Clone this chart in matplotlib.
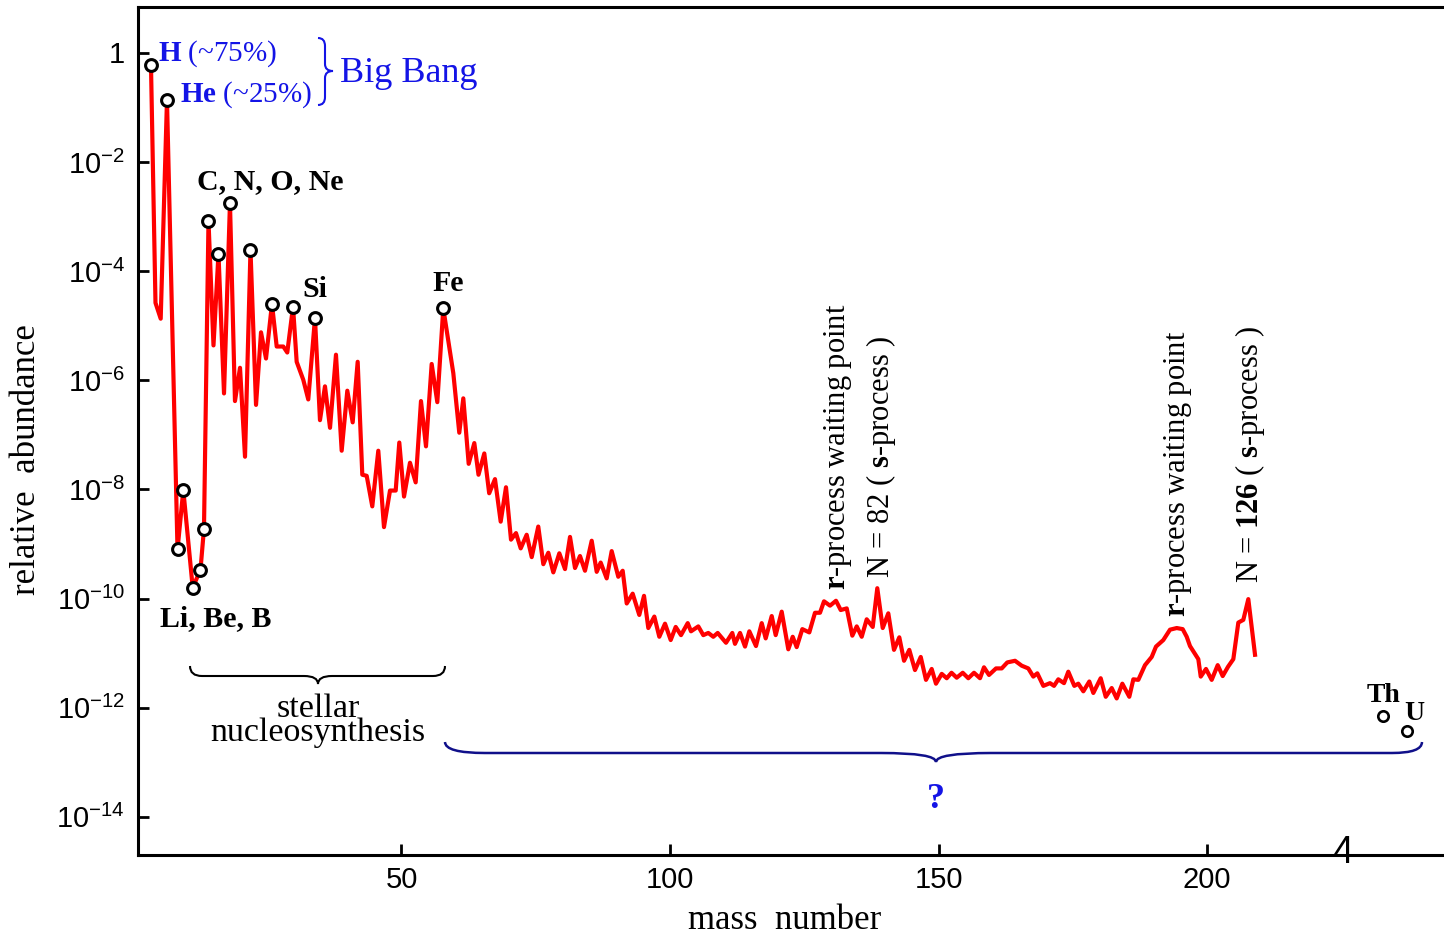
import numpy as np
import matplotlib
matplotlib.use("Agg")
import matplotlib.pyplot as plt
from matplotlib.path import Path
from matplotlib.patches import PathPatch
from matplotlib.transforms import Affine2D

# solar system abundances vs. mass number (x, y as log10)
mass = [3.35, 4.19, 5.16, 6.33, 8.29, 9.37, 11.12, 12.57, 13.22, 14.06,
        14.99, 15.92, 16.95, 18.06, 18.99, 19.93, 20.86, 21.88, 22.91, 23.84,
        24.77, 25.88, 26.76, 27.99, 28.73, 29.80, 30.48, 31.71, 32.64, 33.89,
        34.82, 35.75, 36.69, 37.80, 38.86, 39.91, 40.91, 41.84, 42.70, 43.52,
        44.56, 45.68, 46.74, 47.86, 48.92, 49.59, 50.47, 51.58, 52.64, 53.63,
        54.56, 55.62, 56.67, 57.78, 59.65, 60.76, 61.51, 62.51, 63.56, 64.34,
        65.42, 66.33, 67.41, 68.47, 69.46, 70.39, 71.32, 72.20, 73.31, 74.25,
        75.47, 76.41, 77.34, 78.27, 79.39, 80.45, 81.38, 82.31, 83.24, 84.17,
        85.42, 86.35, 87.09, 88.21, 89.14, 90.37, 91.19, 91.94, 93.05, 94.28,
        95.16, 95.96, 97.08, 98.01, 99.07, 100.13, 101.06, 102.05, 103.30, 103.91,
        105.27, 106.20, 107.13, 108.06, 108.88, 110.43, 111.60, 112.10, 113.04, 113.97,
        114.77, 116.01, 117.08, 117.82, 118.94, 119.68, 120.80, 122.03, 122.85, 123.59,
        124.64, 125.94, 127.00, 127.93, 128.68, 129.80, 130.91, 131.79, 132.91, 133.95,
        134.77, 135.70, 136.63, 137.75, 138.60, 139.61, 140.65, 141.71, 142.70, 143.58,
        144.56, 145.62, 146.69, 147.67, 148.73, 149.53, 150.60, 151.53, 152.42, 153.39,
        154.51, 155.55, 156.61, 157.73, 158.47, 159.40, 160.71, 161.77, 162.81, 164.25,
        165.49, 166.72, 167.65, 168.40, 169.52, 170.76, 171.51, 172.31, 173.37, 174.17,
        175.29, 176.03, 176.97, 178.08, 178.83, 180.20, 181.14, 182.25, 183.18, 184.23,
        185.53, 186.28, 187.21, 188.45, 189.70, 190.50, 191.86, 193.11, 194.36, 195.47,
        196.22, 196.83, 198.38, 198.83, 199.81, 200.87, 201.99, 202.92, 203.91, 204.90,
        205.83, 206.76, 207.69, 208.94]

abund_exp = [-0.22, -4.58, -4.87, -0.86, -9.10, -8.01, -9.80, -9.47, -8.72, -3.08,
             -5.36, -3.68, -6.24, -2.75, -6.38, -5.77, -7.40, -3.61, -6.45, -5.12,
             -5.60, -4.60, -5.38, -5.38, -5.49, -4.65, -5.66, -5.99, -6.35, -4.86,
             -6.73, -6.11, -6.87, -5.53, -7.29, -6.19, -6.77, -5.66, -7.73, -7.75,
             -8.31, -7.29, -8.69, -8.02, -8.02, -7.14, -8.13, -7.51, -7.87, -6.38,
             -7.21, -5.70, -6.40, -4.68, -5.87, -6.96, -6.33, -7.53, -7.15, -7.73,
             -7.34, -8.07, -7.81, -8.59, -7.96, -8.92, -8.80, -9.08, -8.83, -9.24,
             -8.68, -9.37, -9.16, -9.52, -9.17, -9.46, -8.87, -9.44, -9.22, -9.49,
             -8.94, -9.51, -9.34, -9.63, -9.13, -9.60, -9.49, -10.09, -9.91, -10.30,
             -9.95, -10.54, -10.33, -10.70, -10.46, -10.76, -10.52, -10.67, -10.45, -10.60,
             -10.51, -10.67, -10.63, -10.70, -10.63, -10.81, -10.63, -10.83, -10.63, -10.88,
             -10.60, -10.87, -10.45, -10.73, -10.32, -10.67, -10.24, -10.93, -10.70, -10.89,
             -10.56, -10.62, -10.26, -10.26, -10.05, -10.13, -10.04, -10.21, -10.18, -10.68,
             -10.51, -10.70, -10.38, -10.52, -9.81, -10.54, -10.27, -10.94, -10.71, -11.14,
             -10.94, -11.31, -11.07, -11.49, -11.29, -11.56, -11.38, -11.46, -11.36, -11.45,
             -11.36, -11.46, -11.36, -11.46, -11.26, -11.40, -11.28, -11.28, -11.17, -11.14,
             -11.23, -11.28, -11.43, -11.37, -11.60, -11.55, -11.60, -11.48, -11.55, -11.34,
             -11.60, -11.56, -11.70, -11.52, -11.73, -11.46, -11.80, -11.64, -11.83, -11.56,
             -11.80, -11.48, -11.49, -11.22, -11.07, -10.88, -10.76, -10.57, -10.54, -10.56,
             -10.70, -10.87, -11.11, -11.43, -11.29, -11.49, -11.22, -11.42, -11.25, -11.11,
             -10.44, -10.39, -10.01, -11.03]

# circled nuclei: H, He, Li, Be, B, C, N, O, Ne, Mg, Si, S, Fe
peak_mass = [3.35, 6.33, 8.29, 9.37, 11.12, 12.57, 13.22, 14.06, 15.92, 18.06,
             21.88, 25.88, 29.80, 33.89, 57.78]
peak_exp = [-0.22, -0.86, -9.10, -8.01, -9.80, -9.47, -8.72, -3.08, -3.68, -2.75,
            -3.61, -4.60, -4.65, -4.86, -4.68]

# Th, U
act_mass = [232.77, 237.24]
act_exp = [-12.15, -12.42]

ytick_exp = [0, -2, -4, -6, -8, -10, -12, -14]
xticks = [50, 100, 150, 200]

plt.rcParams["font.family"] = "Liberation Serif"
plt.rcParams["mathtext.fontset"] = "custom"
plt.rcParams["mathtext.rm"] = "Liberation Serif"
plt.rcParams["mathtext.it"] = "Liberation Serif:italic"
plt.rcParams["mathtext.bf"] = "Liberation Serif:bold"
plt.rcParams["mathtext.sf"] = "Liberation Sans"

W, H = 1444, 935
fig = plt.figure(figsize=(W / 100, H / 100), dpi=100)
ax = fig.add_axes([137.5 / W, 1 - 855 / H, (W - 137.5) / W, (855 - 7) / H])

ax.plot(mass, 10.0 ** np.array(abund_exp), color="#ff0000", lw=3.0, zorder=2)
ax.plot(peak_mass, 10.0 ** np.array(peak_exp), "o", ms=8.5, mfc="white",
        mec="black", mew=2.2, zorder=3)
ax.plot(act_mass, 10.0 ** np.array(act_exp), "o", ms=7.5, mfc="white",
        mec="black", mew=1.9, zorder=3)

ax.set_yscale("log")
ax.set_xlim(0.84, 244.13)
ax.set_ylim(10 ** -14.70, 10 ** 0.843)

ylabels = ["$\\mathsf{1}$"] + ["$\\mathsf{10^{%d}}$" % k for k in ytick_exp[1:]]
ax.set_yticks([10.0 ** k for k in ytick_exp], ylabels)
ax.minorticks_off()
ax.set_xticks(xticks)
ax.tick_params(direction="in", length=8, width=2, labelsize=21, pad=9)
ax.tick_params(axis="x", labelfontfamily="Liberation Sans", pad=8)

for s in ["left", "top", "bottom"]:
    ax.spines[s].set_linewidth(2.2)
ax.spines["right"].set_visible(False)

ax.set_xlabel("mass  number", fontsize=25)
ax.set_ylabel("relative  abundance", fontsize=25)
ax.xaxis.set_label_coords(0.4956, -0.058)
ax.yaxis.set_label_coords(-0.0723, 0.466)

blue = "#1414e6"
ax.text(4.66, 10 ** -0.147, "$\\mathbf{H}$ (~75%)", color=blue, fontsize=21, va="baseline")
ax.text(8.75, 10 ** -0.898, "$\\mathbf{He}$ (~25%)", color=blue, fontsize=21, va="baseline")
ax.text(38.55, 10 ** -0.531, "Big Bang", color=blue, fontsize=26, va="baseline")
ax.text(11.92, 10 ** -2.492, "C, N, O, Ne", fontsize=21.5, fontweight="bold", va="baseline")
ax.text(31.47, 10 ** -4.471, "Si", fontsize=21.5, fontweight="bold", va="baseline")
ax.text(55.68, 10 ** -4.361, "Fe", fontsize=21.5, fontweight="bold", va="baseline")
ax.text(5.03, 10 ** -10.50, "Li, Be, B", fontsize=21.5, fontweight="bold", va="baseline")
ax.text(34.45, 10 ** -12.61, "stellar\nnucleosynthesis", fontsize=24.5, ha="center",
        va="baseline", multialignment="center", linespacing=0.74)
ax.text(149.5, 10 ** -13.84, "?", color=blue, fontsize=26, fontweight="bold",
        ha="center", va="baseline")
ax.text(229.8, 10 ** -11.89, "Th", fontsize=20, fontweight="bold", va="baseline")
ax.text(236.8, 10 ** -12.22, "U", fontsize=20, fontweight="bold", va="baseline")
ax.text(225.3, 10 ** -14.66, "4", fontsize=27, family="Liberation Sans",
        ha="center", va="center")

ax.text(131.3, 10 ** -9.84, "$\\mathbf{r}$-process waiting point", fontsize=22,
        rotation=90, ha="center", va="bottom")
ax.text(139.3, 10 ** -9.62, "N = 82 ( $\\mathbf{s}$-process )", fontsize=22,
        rotation=90, ha="center", va="bottom")
ax.text(194.6, 10 ** -10.34, "$\\mathbf{r}$-process waiting point", fontsize=22,
        rotation=90, ha="center", va="bottom")
ax.text(208.0, 10 ** -9.72, "N = $\\mathbf{126}$ ( $\\mathbf{s}$-process )", fontsize=22,
        rotation=90, ha="center", va="bottom")


# curly braces drawn in pixel coordinates of the figure
pix = Affine2D().scale(1 / W, -1 / H).translate(0, 1) + fig.transFigure


def brace(u0, u1, ut, v_arm, v_mid, v_tip, r0, r1, rt, vertical=False, **kw):
    pts = [(u0, v_arm), (u0, v_mid), (u0 + r0, v_mid),
           (ut - rt, v_mid), (ut, v_mid), (ut, v_tip),
           (ut, v_mid), (ut + rt, v_mid),
           (u1 - r1, v_mid), (u1, v_mid), (u1, v_arm)]
    if vertical:
        pts = [(v, u) for u, v in pts]
    codes = [Path.MOVETO, Path.CURVE3, Path.CURVE3, Path.LINETO,
             Path.CURVE3, Path.CURVE3, Path.CURVE3, Path.CURVE3,
             Path.LINETO, Path.CURVE3, Path.CURVE3]
    fig.add_artist(PathPatch(Path(pts, codes), fill=False, transform=pix, **kw))


brace(190, 445, 318, 666, 676, 684, 12, 12, 14, ec="black", lw=1.5)
brace(445, 1422, 936, 742, 753, 762, 40, 30, 55, ec="#10108a", lw=1.8)
brace(38, 105, 71, 318, 325, 333, 8, 8, 7, vertical=True, ec=blue, lw=1.5)

fig.savefig("out.png", dpi=100)
